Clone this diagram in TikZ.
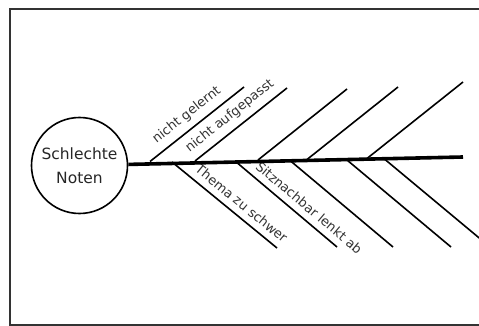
\documentclass[tikz,border=0pt]{standalone}
\usepackage{fontspec}
\setmainfont{DejaVu Sans}
\usepackage{tikz}
\usetikzlibrary{positioning}
\usepackage{xcolor}

\begin{document}
\begin{tikzpicture}[x=1pt, y=-1pt,
    bone/.style={draw=black, line width=1.6pt},
    spine/.style={draw=black, line width=3.6pt},
    cause/.style={sloped, above=3pt, text=black!80, font=\fontsize{13}{15}\selectfont}]
  \useasboundingbox (0, 0) rectangle (479, 326);
  \draw[black!80, line width=1.6pt] (10, 9) rectangle (490, 325);

  \node[circle, draw=black, line width=1.6pt, minimum size=96pt, inner sep=0pt,
        align=center, text=black!85, font=\fontsize{15.5}{24}\selectfont]
        (effect) at (79.5, 165.5) {Schlechte\\Noten};
  \coordinate (head) at (463, 157);

  \coordinate (u1) at (150, 161.5);
  \coordinate (u2) at (195, 161);
  \coordinate (u3) at (258, 160);
  \coordinate (u4) at (307, 159.5);
  \coordinate (u5) at (367, 158.5);
  \coordinate (u1e) at (244, 87);
  \coordinate (u2e) at (287, 88);
  \coordinate (u3e) at (347, 89);
  \coordinate (u4e) at (398, 87);
  \coordinate (u5e) at (463, 82);

  \coordinate (l1) at (172, 162);
  \coordinate (l2) at (235, 161);
  \coordinate (l3) at (290, 160.5);
  \coordinate (l4) at (347, 160);
  \coordinate (l5) at (385, 159.5);
  \coordinate (l1e) at (277, 248);
  \coordinate (l2e) at (337, 247);
  \coordinate (l3e) at (393, 247);
  \coordinate (l4e) at (451, 247);
  \coordinate (l5e) at (490, 247);

  \draw[bone] (u1) -- (u1e) node[cause, pos=0.48] (gelernt) {nicht gelernt};
  \draw[bone] (u2) -- (u2e) node[cause, pos=0.47] (aufgepasst) {nicht aufgepasst};
  \draw[bone] (u3) -- (u3e);
  \draw[bone] (u4) -- (u4e);
  \draw[bone] (u5) -- (u5e);

  \draw[bone] (l1) -- (l1e) node[cause, pos=0.59] (thema) {Thema zu schwer};
  \draw[bone] (l2) -- (l2e) node[cause, pos=0.65] (nachbar) {Sitznachbar lenkt ab};
  \draw[bone] (l3) -- (l3e);
  \draw[bone] (l4) -- (l4e);
  \draw[bone] (l5) -- (l5e);

  \draw[spine] (effect) -- (head);
\end{tikzpicture}
\end{document}
